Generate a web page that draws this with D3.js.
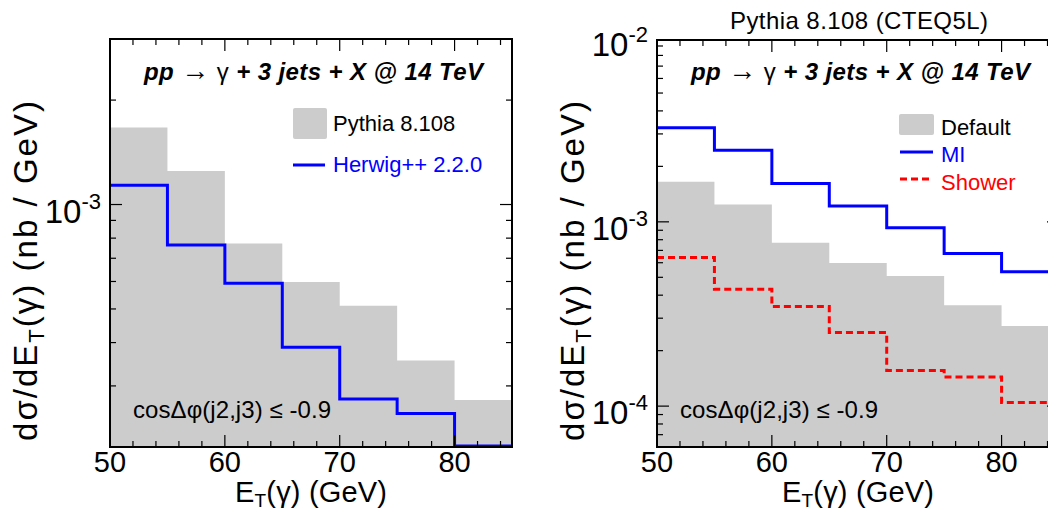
<!DOCTYPE html>
<html><head><meta charset="utf-8">
<script src="https://cdn.jsdelivr.net/npm/d3@7"></script>
<style>body{margin:0;background:#fff}svg{display:block;font-family:Arial,"Liberation Sans",Helvetica,sans-serif}</style>
</head><body><svg id="c" width="1048" height="514"></svg>
<script>
// ---- data ----
const binEdges = [50, 55, 60, 65, 70, 75, 80, 85];
const pythiaLeft = [1.666e-3, 1.249e-3, 7.72e-4, 5.98e-4, 5.11e-4, 3.55e-4, 2.73e-4];
const herwig = [1.136e-3, 7.65e-4, 5.93e-4, 3.88e-4, 2.75e-4, 2.50e-4, 2.0e-4];
const pythiaDefault = [1.648e-3, 1.243e-3, 7.69e-4, 5.97e-4, 5.08e-4, 3.53e-4, 2.72e-4];
const pythiaMI = [3.236e-3, 2.449e-3, 1.616e-3, 1.217e-3, 9.28e-4, 6.74e-4, 5.36e-4];
const pythiaShower = [6.41e-4, 4.31e-4, 3.47e-4, 2.51e-4, 1.56e-4, 1.44e-4, 1.045e-4];
const xTickLabels = [50, 60, 70, 80];
const leftYDomain = [2e-4, 3e-3];
const rightYDomain = [6e-5, 9.7e-3];
const leftYLabels = [-3];
const rightYLabels = [-2, -3, -4];

const svg = d3.select("#c");
const GRAY = "#cccccc";

function panel(cfg) {
  const x = d3.scaleLinear().domain([50, 85]).range([cfg.x0, cfg.x1]);
  const y = d3.scaleLog().domain(cfg.yDomain).range([cfg.y1, cfg.y0]);
  const g = svg.append("g");
  const cid = "clip" + cfg.id;
  svg.append("clipPath").attr("id", cid).append("rect")
    .attr("x", cfg.x0).attr("y", cfg.y0).attr("width", cfg.x1 - cfg.x0).attr("height", cfg.y1 - cfg.y0);
  const pg = g.append("g").attr("clip-path", `url(#${cid})`);

  const stepPts = vals => {
    const p = [];
    vals.forEach((v, i) => { p.push([binEdges[i], v]); p.push([binEdges[i + 1], v]); });
    return p;
  };
  // filled histogram
  pg.append("path").datum(stepPts(cfg.fill))
    .attr("d", d3.area().x(d => x(d[0])).y0(cfg.y1).y1(d => y(d[1])))
    .attr("fill", GRAY);
  // line histograms
  cfg.lines.forEach(l => {
    pg.append("path").datum(stepPts(l.values))
      .attr("d", d3.line().x(d => x(d[0])).y(d => Math.min(cfg.y1 - 1, y(d[1]))))
      .attr("fill", "none").attr("stroke", l.color).attr("stroke-width", 3)
      .attr("stroke-dasharray", l.dash || null);
  });

  // ticks
  const tk = g.append("g").attr("stroke", "#000").attr("stroke-width", 1.2);
  d3.range(50, 85, 2).forEach(v => {
    const L = v % 10 === 0 ? 12 : 6;
    tk.append("line").attr("x1", x(v)).attr("x2", x(v)).attr("y1", cfg.y1).attr("y2", cfg.y1 - L);
    tk.append("line").attr("x1", x(v)).attr("x2", x(v)).attr("y1", cfg.y0).attr("y2", cfg.y0 + L);
  });
  const lo = Math.floor(Math.log10(cfg.yDomain[0])), hi = Math.ceil(Math.log10(cfg.yDomain[1]));
  for (let k = lo; k <= hi; k++) {
    for (let m = 1; m <= 9; m++) {
      const v = m * Math.pow(10, k);
      if (v < cfg.yDomain[0] * 1.0001 || v > cfg.yDomain[1]) continue;
      const L = m === 1 ? 12 : 6;
      tk.append("line").attr("x1", cfg.x0).attr("x2", cfg.x0 + L).attr("y1", y(v)).attr("y2", y(v));
      tk.append("line").attr("x1", cfg.x1).attr("x2", cfg.x1 - L).attr("y1", y(v)).attr("y2", y(v));
    }
  }
  // frame
  g.append("rect").attr("x", cfg.x0).attr("y", cfg.y0).attr("width", cfg.x1 - cfg.x0).attr("height", cfg.y1 - cfg.y0)
    .attr("fill", "none").attr("stroke", "#000").attr("stroke-width", 2);

  // x tick labels
  g.selectAll(".xl").data(xTickLabels).join("text")
    .attr("x", d => x(d)).attr("y", cfg.y1 + 25).attr("text-anchor", "middle")
    .attr("font-size", 29).text(d => d);
  // y tick labels
  cfg.yLabels.forEach(e => {
    const t = g.append("text").attr("x", cfg.x0 - 9).attr("y", y(Math.pow(10, e)) + 18)
      .attr("text-anchor", "end").attr("font-size", 33);
    t.append("tspan").text("10");
    t.append("tspan").attr("dy", -14).attr("font-size", 22).text(String(e));
  });
  // x title
  const xt = g.append("text").attr("x", (cfg.x0 + cfg.x1) / 2).attr("y", 502)
    .attr("text-anchor", "middle").attr("font-size", 29)
    .attr("textLength", 152).attr("lengthAdjust", "spacing");
  xt.append("tspan").text("E");
  xt.append("tspan").attr("dy", 5).attr("font-size", 19).text("T");
  xt.append("tspan").attr("dy", -5).text("(γ) (GeV)");
  // y title
  const yt = g.append("text").attr("transform", `translate(${cfg.x0 - 73},271) rotate(-90)`)
    .attr("text-anchor", "middle").attr("font-size", 33)
    .attr("textLength", 340).attr("lengthAdjust", "spacing");
  yt.append("tspan").text("dσ/dE");
  yt.append("tspan").attr("dy", 7).attr("font-size", 22).text("T");
  yt.append("tspan").attr("dy", -7).text("(γ) (nb / GeV)");

  // process label
  const pl = g.append("text").attr("x", cfg.x1 - 29).attr("y", 80).attr("text-anchor", "end")
    .attr("font-size", 24).attr("font-weight", "bold").attr("font-style", "italic")
    .attr("textLength", 339).attr("lengthAdjust", "spacing");
  pl.append("tspan").text("pp ");
  pl.append("tspan").attr("font-weight", "normal").attr("font-style", "normal").attr("font-size", 28).text("→");
  pl.append("tspan").attr("font-weight", "normal").attr("font-style", "normal").text(" γ");
  pl.append("tspan").text(" + 3 jets + X @ 14 TeV");
  // cut label
  g.append("text").attr("x", cfg.x0 + 23).attr("y", 418).attr("font-size", 24)
    .attr("textLength", 198).attr("lengthAdjust", "spacing")
    .text("cosΔφ(j2,j3) ≤ -0.9");
  return { x, y, g };
}

const L = panel({ id: "L", x0: 110, x1: 512, y0: 39, y1: 447, yDomain: leftYDomain, yLabels: leftYLabels,
  fill: pythiaLeft, lines: [{ values: herwig, color: "#0000ff" }] });
const R = panel({ id: "R", x0: 657, x1: 1059, y0: 40, y1: 447, yDomain: rightYDomain, yLabels: rightYLabels,
  fill: pythiaDefault, lines: [{ values: pythiaMI, color: "#0000ff" }, { values: pythiaShower, color: "#ff0000", dash: "7,4" }] });

// header
svg.append("text").attr("x", 859).attr("y", 29).attr("text-anchor", "middle").attr("font-size", 24)
  .attr("textLength", 258).attr("lengthAdjust", "spacing")
  .text("Pythia 8.108 (CTEQ5L)");

// left legend
const lg = svg.append("g");
lg.append("rect").attr("x", 293).attr("y", 108).attr("width", 34).attr("height", 31).attr("rx", 2).attr("fill", GRAY);
lg.append("text").attr("x", 333).attr("y", 131).attr("font-size", 22).text("Pythia 8.108");
lg.append("line").attr("x1", 293).attr("x2", 325).attr("y1", 165).attr("y2", 165).attr("stroke", "#0000ff").attr("stroke-width", 3);
lg.append("text").attr("x", 333).attr("y", 172).attr("font-size", 22).attr("fill", "#0000ff").text("Herwig++ 2.2.0");

// right legend
const rg = svg.append("g");
rg.append("rect").attr("x", 899).attr("y", 114).attr("width", 35).attr("height", 21).attr("rx", 2).attr("fill", GRAY);
rg.append("text").attr("x", 941).attr("y", 135).attr("font-size", 22).text("Default");
rg.append("line").attr("x1", 900).attr("x2", 933).attr("y1", 152).attr("y2", 152).attr("stroke", "#0000ff").attr("stroke-width", 3);
rg.append("text").attr("x", 941).attr("y", 162).attr("font-size", 22).attr("fill", "#0000ff").text("MI");
rg.append("line").attr("x1", 900).attr("x2", 933).attr("y1", 179).attr("y2", 179).attr("stroke", "#ff0000").attr("stroke-width", 3).attr("stroke-dasharray", "7,4");
rg.append("text").attr("x", 941).attr("y", 190).attr("font-size", 22).attr("fill", "#ff0000").text("Shower");
</script></body></html>
